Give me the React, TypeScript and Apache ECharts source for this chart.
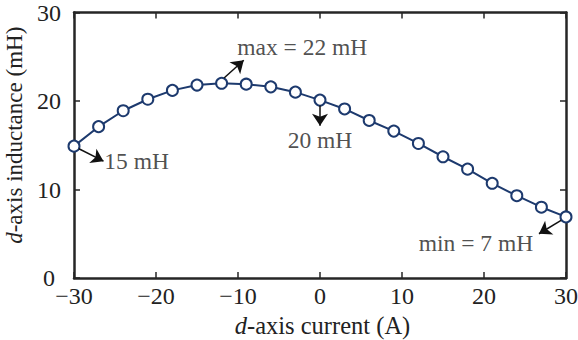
import React, { useEffect, useRef } from "react";
import * as echarts from "echarts";

const currents = [-30, -27, -24, -21, -18, -15, -12, -9, -6, -3, 0, 3, 6, 9, 12, 15, 18, 21, 24, 27, 30];
const inductance = [14.9, 17.1, 18.9, 20.2, 21.2, 21.8, 22.0, 21.9, 21.6, 21.0, 20.1, 19.1, 17.8, 16.6, 15.2, 13.7, 12.3, 10.7, 9.3, 8.0, 6.9];

const annotationTexts = ["max = 22 mH", "15 mH", "20 mH", "min = 7 mH"];
const annotationAnchors = [[-10.1, 26.1], [-26.3, 13.2], [0, 15.6], [26.0, 3.9]];
const annotationSides = ["right", "right", "inside", "left"];
const arrowStarts = [[-11.7, 22.6], [-29.4, 14.6], [0, 19.5], [29.4, 6.5]];
const arrowEnds = [[-9.3, 24.6], [-26.4, 13.2], [0, 17.2], [26.7, 5.0]];

const FONT = "Liberation Serif";
const TXT = "#222222";
const AX = "#262626";

export default function App() {
  const ref = useRef<HTMLDivElement>(null);
  useEffect(() => {
    const chart = echarts.init(ref.current!, null, { renderer: "svg" });
    const minus = (v: number) => String(v).replace("-", "\u2212");
    const axisCommon = {
      axisLine: { show: true, onZero: false, lineStyle: { color: AX, width: 2.5 } },
      axisTick: { show: true, inside: true, length: 6, lineStyle: { color: AX, width: 1.5 } },
      splitLine: { show: false },
    };
    const option: any = {
      animation: false,
      backgroundColor: "#fff",
      grid: { left: 74, right: 12, top: 12.5, bottom: 62, containLabel: false, outerBoundsMode: "none" },
      xAxis: [
        {
          type: "value", min: -30, max: 30, interval: 10, position: "bottom",
          ...axisCommon,
          axisLabel: { color: TXT, fontFamily: FONT, fontSize: 24, lineHeight: 16, margin: 10, formatter: minus },
          name: "{i|d}-axis current (A)",
          nameLocation: "middle",
          nameGap: 33,
          nameTextStyle: {
            color: TXT, fontFamily: FONT, fontSize: 24.5, padding: [0, 0, 0, 5],
            rich: { i: { fontStyle: "italic", fontFamily: FONT, fontSize: 24.5, color: TXT } },
          },
        },
        {
          type: "value", min: -30, max: 30, interval: 10, position: "top",
          ...axisCommon, axisLabel: { show: false },
        },
      ],
      yAxis: [
        {
          type: "value", min: 0, max: 30, interval: 10, position: "left",
          ...axisCommon,
          axisLabel: {
            color: TXT, fontFamily: FONT, fontSize: 24, lineHeight: 16, margin: 13,
            formatter: (v: number) => (v === 0 ? "{z|0}" : String(v)),
            rich: { z: { color: TXT, fontFamily: FONT, fontSize: 24, lineHeight: 16, padding: [0, 6, 0, 0] } },
          },
          name: "{i|d}-axis inductance (mH)",
          nameLocation: "middle",
          nameGap: 43,
          nameTextStyle: {
            color: TXT, fontFamily: FONT, fontSize: 23, padding: [0, 0, 0, 20],
            rich: { i: { fontStyle: "italic", fontFamily: FONT, fontSize: 23, color: TXT } },
          },
        },
        {
          type: "value", min: 0, max: 30, interval: 10, position: "right",
          ...axisCommon, axisLabel: { show: false },
        },
      ],
      series: [
        {
          type: "line",
          data: currents.map((c, i) => [c, inductance[i]]),
          symbol: "circle",
          symbolSize: 11,
          lineStyle: { color: "#1d3a6e", width: 2 },
          itemStyle: { color: "#ffffff", borderColor: "#1d3a6e", borderWidth: 2 },
          z: 3,
          markLine: {
            silent: true,
            symbol: ["none", "arrow"],
            symbolSize: 12,
            label: { show: false },
            lineStyle: { color: "#111", width: 1.5, type: "solid" },
            emphasis: { disabled: true },
            data: arrowStarts.map((s, i) => [
              { coord: s, symbol: "none" },
              { coord: arrowEnds[i], symbol: "arrow" },
            ]),
          },
        },
        {
          type: "scatter",
          symbolSize: 0,
          silent: true,
          data: annotationAnchors.map((a, i) => ({
            value: a,
            label: {
              show: true,
              formatter: annotationTexts[i],
              position: annotationSides[i],
              distance: 0,
              color: TXT,
              fontFamily: FONT,
              fontSize: 23.5,
            },
          })),
        },
      ],
    };
    chart.setOption(option);
    return () => chart.dispose();
  }, []);
  return <div ref={ref} style={{ position: "fixed", left: 0, top: 0, width: 578, height: 340 }} />;
}
